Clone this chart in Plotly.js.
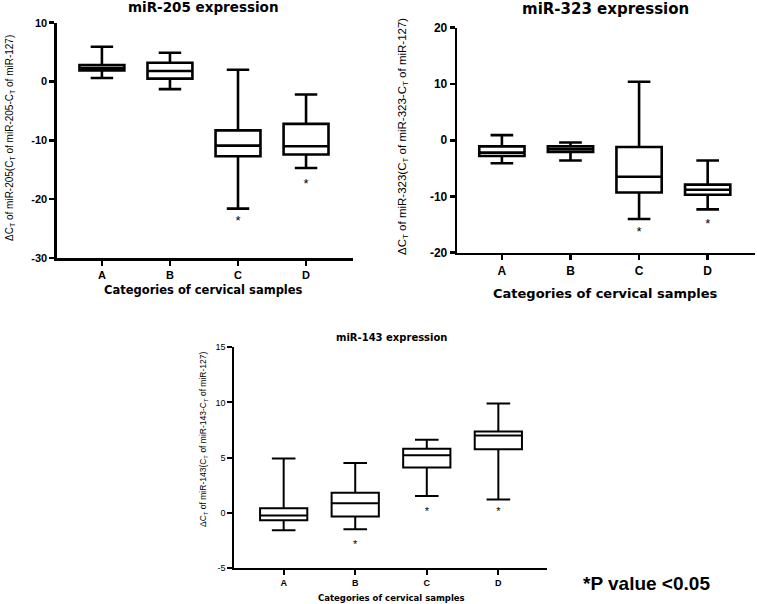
<!DOCTYPE html>
<html>
<head>
<meta charset="utf-8">
<script src="https://cdn.plot.ly/plotly-3.0.1.min.js"></script>
<style>html,body{margin:0;padding:0;background:#fff;}#chart{width:757px;height:604px;}</style>
</head>
<body>
<div id="chart"></div>
<script>
// ---- data ----
const categories = ['A', 'B', 'C', 'D'];

// miR-205
const m205_upper = [5.9, 4.9, 2.0, -2.2];
const m205_q3 = [2.8, 3.2, -8.3, -7.2];
const m205_median = [2.3, 1.8, -10.9, -11.0];
const m205_q1 = [1.9, 0.5, -12.7, -12.4];
const m205_lower = [0.6, -1.3, -21.6, -14.7];
const m205_starCats = ['C', 'D'];
const m205_starY = [-23.9, -17.5];
const m205_tickVals = [-30, -20, -10, 0, 10];
const m205_tickText = ['-30', '-20', '-10', '0', '10'];

// miR-323
const m323_upper = [0.9, -0.4, 10.4, -3.6];
const m323_q3 = [-1.1, -1.1, -1.2, -7.9];
const m323_median = [-2.2, -1.6, -6.5, -8.8];
const m323_q1 = [-2.8, -2.1, -9.3, -9.7];
const m323_lower = [-4.1, -3.6, -14.0, -12.3];
const m323_starCats = ['C', 'D'];
const m323_starY = [-16.4, -15.0];
const m323_tickVals = [-20, -10, 0, 10, 20];
const m323_tickText = ['-20', '-10', '0', '10', '20'];

// miR-143
const m143_upper = [4.9, 4.5, 6.6, 9.9];
const m143_q3 = [0.4, 1.8, 5.8, 7.35];
const m143_median = [-0.27, 0.85, 5.2, 7.0];
const m143_q1 = [-0.7, -0.36, 4.1, 5.75];
const m143_lower = [-1.6, -1.5, 1.5, 1.2];
const m143_starCats = ['B', 'C', 'D'];
const m143_starY = [-3.0, 0.05, 0.05];
const m143_tickVals = [-5, 0, 5, 10, 15];
const m143_tickText = ['-5', '0', '5', '10', '15'];

// ---- layout helpers ----
const W = 757, H = 604;
const px = v => v / W;
const py = v => 1 - v / H;
const FONT = 'Liberation Sans, Arial, sans-serif';
const WIDE = 'DejaVu Sans, Verdana, sans-serif';

function boxTrace(xa, ya, q1, med, q3, lo, hi, lw) {
  return {
    type: 'box', x: categories, q1: q1, median: med, q3: q3,
    lowerfence: lo, upperfence: hi,
    xaxis: xa, yaxis: ya,
    fillcolor: 'white', line: {color: 'black', width: lw},
    whiskerwidth: 0.5, width: 0.66, boxpoints: false,
    hoverinfo: 'skip', showlegend: false
  };
}
function starTrace(xa, ya, cats, ys, size) {
  return {
    type: 'scatter', mode: 'text', x: cats, y: ys, text: cats.map(() => '*'),
    textposition: 'middle center', textfont: {family: FONT, size: size, color: 'black'},
    xaxis: xa, yaxis: ya, hoverinfo: 'skip', showlegend: false
  };
}

const data = [
  boxTrace('x', 'y', m205_q1, m205_median, m205_q3, m205_lower, m205_upper, 2.6),
  starTrace('x', 'y', m205_starCats, m205_starY, 13),
  boxTrace('x2', 'y2', m323_q1, m323_median, m323_q3, m323_lower, m323_upper, 2.6),
  starTrace('x2', 'y2', m323_starCats, m323_starY, 13),
  boxTrace('x3', 'y3', m143_q1, m143_median, m143_q3, m143_lower, m143_upper, 2),
  starTrace('x3', 'y3', m143_starCats, m143_starY, 11)
];

function xaxis(domain, range, anchor, lw, fs) {
  return {
    domain: domain, range: range, anchor: anchor, type: 'category',
    showline: true, linecolor: 'black', linewidth: lw, mirror: false,
    ticks: 'outside', ticklen: 5, tickwidth: lw, tickcolor: 'black',
    showgrid: false, zeroline: false, fixedrange: true,
    tickfont: {family: FONT, size: fs, color: 'black', weight: 'bold'}
  };
}
function yaxis(domain, vals, txt, anchor, lw, fs, bold) {
  return {
    domain: domain, range: [vals[0], vals[vals.length - 1]], anchor: anchor,
    tickmode: 'array', tickvals: vals, ticktext: txt,
    showline: true, linecolor: 'black', linewidth: lw,
    ticks: 'outside', ticklen: 5, tickwidth: lw, tickcolor: 'black',
    showgrid: false, zeroline: false, fixedrange: true,
    tickfont: {family: FONT, size: fs, color: 'black', weight: bold ? 'bold' : 'normal'}
  };
}

function ann(text, x, y, size, bold, angle, family) {
  return {
    text: text, x: px(x), y: py(y), xref: 'paper', yref: 'paper',
    xanchor: 'center', yanchor: 'middle', showarrow: false,
    textangle: angle || 0,
    font: {family: family || FONT, size: size, color: 'black', weight: bold ? 'bold' : 'normal'}
  };
}

const layout = {
  width: W, height: H,
  margin: {l: 0, r: 0, t: 0, b: 0},
  paper_bgcolor: 'white', plot_bgcolor: 'white',
  showlegend: false,
  xaxis: xaxis([px(57), px(353)], [-0.66, 3.69], 'y', 2.6, 11),
  yaxis: yaxis([py(258), py(22.7)], m205_tickVals, m205_tickText, 'x', 2.6, 11, true),
  xaxis2: xaxis([px(457.3), px(755)], [-0.65, 3.69], 'y2', 2.6, 12),
  yaxis2: yaxis([py(252.7), py(27.7)], m323_tickVals, m323_tickText, 'x2', 2.6, 12, true),
  xaxis3: xaxis([px(234.3), px(547)], [-0.69, 3.68], 'y3', 2, 9),
  yaxis3: yaxis([py(567.7), py(347.3)], m143_tickVals, m143_tickText, 'x3', 2, 9, false),
  annotations: [
    ann('miR-205 expression', 203, 7, 13.5, true, 0, WIDE),
    ann('miR-323 expression', 605, 9, 15, true, 0, WIDE),
    ann('miR-143 expression', 391, 337, 10, true, 0, WIDE),
    ann('Categories of cervical samples', 203, 290, 11.5, true, 0, WIDE),
    ann('Categories of cervical samples', 605, 293, 13, true, 0, WIDE),
    ann('Categories of cervical samples', 391, 598, 8.5, true, 0, WIDE),
    ann('ΔC<sub>T</sub> of miR-205(C<sub>T</sub> of miR-205-C<sub>T</sub> of miR-127)', 10, 138, 10, false, -90),
    ann('ΔC<sub>T</sub> of miR-323(C<sub>T</sub> of miR-323-C<sub>T</sub> of miR-127)', 403, 137, 11.5, false, -90),
    ann('ΔC<sub>T</sub> of miR-143(C<sub>T</sub> of miR-143-C<sub>T</sub> of miR-127)', 204, 440, 8.5, false, -90),
    ann('*P value &lt;0.05', 646, 583, 19, true, 0, FONT)
  ]
};

Plotly.newPlot('chart', data, layout, {displayModeBar: false, staticPlot: true});
</script>
</body>
</html>
